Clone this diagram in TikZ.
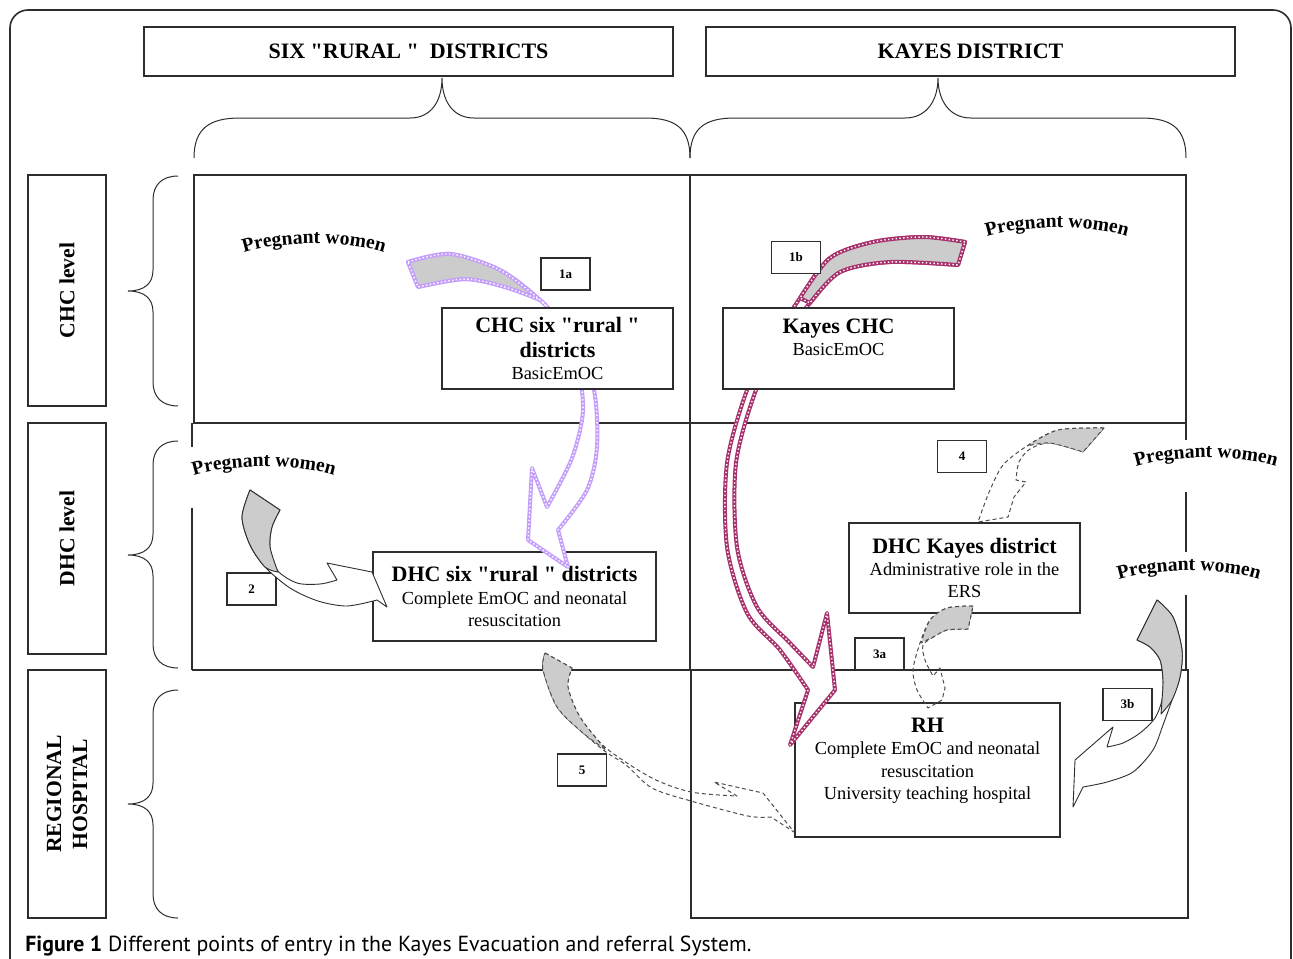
\documentclass[tikz,border=0pt]{standalone}
\usepackage{fontspec}
\setmainfont{Liberation Serif}
\newfontfamily\capfont{PT Sans}
\usetikzlibrary{decorations.text}

\definecolor{violetc}{RGB}{196,160,250}
\definecolor{maroonc}{RGB}{168,50,108}
\definecolor{shadec}{RGB}{204,204,204}
\definecolor{inkc}{RGB}{45,45,45}

\newcommand{\boxbig}{\fontsize{11}{13}\selectfont\bfseries}
\newcommand{\boxsmall}{\fontsize{9.2}{11.2}\selectfont}
\newcommand{\pwfont}{\fontsize{9.8}{10}\selectfont\bfseries}
\newcommand{\dq}{\textquotedbl}

\tikzset{
  cellbox/.style={draw=inkc, line width=0.7pt, fill=white, inner sep=0pt, outer sep=0pt, align=center, font=\boxsmall},
  hdrbox/.style={draw=inkc, line width=0.7pt, minimum width=264.5pt, minimum height=24.5pt, inner sep=0pt, font=\fontsize{11}{13}\selectfont\bfseries},
  lvlbox/.style={draw=inkc, line width=0.7pt, rotate=90, minimum height=39pt, inner sep=0pt, align=center, font=\fontsize{10.8}{13}\selectfont\bfseries},
  numbox/.style={draw=inkc, line width=0.6pt, fill=white, minimum width=24.5pt, minimum height=16pt, inner sep=0pt, font=\fontsize{6.5}{7}\selectfont\bfseries},
  gridline/.style={draw=inkc, line width=0.8pt},
  brace/.style={draw=inkc, line width=0.5pt},
  beads/.style={draw=#1, line width=2pt, line join=round, postaction={draw=white, line width=0.7pt, dash pattern=on 0.7pt off 1.2pt}},
  dashrim/.style={draw=inkc!85, line width=0.5pt, dash pattern=on 2pt off 1.5pt, line join=round},
  solidrim/.style={draw=inkc, line width=0.45pt, line join=round},
  pregnant/.style={decorate, decoration={text along path, text align=center, text={|\pwfont|Pregnant women}}}
}

\begin{document}
\begin{tikzpicture}[x=0.5pt, y=0.5pt]
\useasboundingbox (0,0) rectangle (1293,-958);
\draw [inkc, line width=0.8pt, rounded corners=9pt] (10,-962) -- (10,-10) -- (1291,-10) -- (1291,-962);

\node [hdrbox] (hdrrural) at (408.5,-51.5) {SIX \dq RURAL \dq\ \ DISTRICTS};
\node [hdrbox] (hdrkayes) at (970.5,-51.5) {KAYES DISTRICT};
\draw [brace] (194,-158) .. controls (194,-128) and (210,-118) .. (240,-118) -- (410,-118) .. controls (432,-118) and (442,-100) .. (442,-78) .. controls (442,-100) and (452,-118) .. (474,-118) -- (645,-118) .. controls (675,-118) and (690,-128) .. (690,-158);
\draw [brace] (690,-158) .. controls (690,-128) and (705,-118) .. (735,-118) -- (905,-118) .. controls (927,-118) and (938,-100) .. (938,-78) .. controls (938,-100) and (949,-118) .. (971,-118) -- (1141,-118) .. controls (1171,-118) and (1186,-128) .. (1186,-158);

\draw [gridline] (194,-175) rectangle (1186,-423);
\draw [gridline] (690,-175) -- (690,-670);
\draw [gridline] (192,-670) -- (1186,-670);
\draw [gridline] (192,-423) -- (192,-447) (192,-508) -- (192,-670);
\draw [gridline] (1186,-423) -- (1186,-440) (1186,-492) -- (1186,-552) (1186,-595) -- (1186,-670);
\draw [gridline] (691,-670) rectangle (1188,-918);

\node [lvlbox, minimum width=115.5pt] (lvlchc) at (67,-290.5) {CHC level};
\node [lvlbox, minimum width=115.5pt] (lvldhc) at (67,-538.5) {DHC level};
\node [lvlbox, minimum width=124pt] (lvlrh) at (67,-794) {REGIONAL\\HOSPITAL};
\foreach \t/\m/\b in {176/291/406, 441/555/668, 690/804/918}
  \draw [brace] (178,-\t) .. controls (162,-\t) and (153,{-\t-9}) .. (153,{-\t-24}) -- (153,{-\m+21}) .. controls (153,{-\m+8}) and (145,-\m) .. (128,-\m) .. controls (145,-\m) and (153,{-\m-8}) .. (153,{-\m-21}) -- (153,{-\b+24}) .. controls (153,{-\b+9}) and (162,-\b) .. (178,-\b);

\node [cellbox, minimum width=141.5pt, minimum height=44.5pt] (dhcrural) at (514.5,-596.5) {{\boxbig DHC six \dq rural \dq\ districts}\\Complete EmOC and neonatal\\resuscitation};
\node [cellbox, minimum width=115.5pt, minimum height=45pt] (dhckayes) at (964.5,-568) {{\boxbig DHC Kayes district}\\Administrative role in the\\ERS};
\node [cellbox, minimum width=132.5pt, minimum height=67pt] (rhbox) at (927.5,-770) {{\boxbig RH}\\Complete EmOC and neonatal\\resuscitation\\University teaching hospital\\\mbox{}};

\node [numbox] (numtwo) at (251.5,-589) {2};
\node [numbox] (numfour) at (962,-456.5) {4};
\node [numbox] (numthreea) at (879.5,-654) {3a};
\node [numbox] (numthreeb) at (1127.5,-704.5) {3b};
\node [numbox] (numfive) at (582,-770) {5};

\draw [solidrim, fill=white] (250,-490) -- (280,-510) -- plot [smooth] coordinates {(280,-510) (272,-527) (270,-547) (277,-570) (297,-583) (320,-584) (337,-580)} -- (327,-563) -- (372,-572) -- (387,-607) -- (377,-600) -- plot [smooth] coordinates {(377,-600) (347,-606) (318,-601) (290,-588) (265,-567) (250,-545) (242,-517) (250,-490)} -- cycle;
\draw [solidrim, fill=shadec] (250,-490) -- (280,-510) -- plot [smooth] coordinates {(280,-510) (272,-527) (270,-547) (278,-572)} -- plot [smooth] coordinates {(278,-572) (265,-567) (250,-545) (242,-517) (250,-490)} -- cycle;

\draw [solidrim, fill=white] plot [smooth] coordinates {(1157,-600) (1173,-617) (1182,-650) (1180,-677) (1172,-700) (1163,-725) (1153,-750) (1133,-772) (1107,-782) (1083,-787)} -- (1073,-807) -- (1075,-760) -- (1113,-727) -- (1107,-747) -- plot [smooth] coordinates {(1107,-747) (1123,-743) (1140,-733) (1155,-718) (1162,-700) (1163,-680) (1160,-660) (1150,-647) (1137,-640)} -- cycle;
\draw [solidrim, fill=shadec] plot [smooth] coordinates {(1157,-600) (1173,-617) (1182,-650) (1180,-677) (1172,-700) (1161,-714)} -- plot [smooth] coordinates {(1161,-714) (1162,-700) (1163,-680) (1160,-660) (1150,-647) (1137,-640)} -- cycle;

\draw [dashrim] plot [smooth] coordinates {(1104,-428) (1058,-430) (1027,-446) (1003,-465) (990,-490) (983,-508) (978,-522)} -- (1008,-517) -- (1014,-497) -- (1026,-482) -- (1016,-480) -- plot [smooth] coordinates {(1016,-480) (1019,-462) (1030,-449) (1050,-443) (1083,-452)} -- cycle;
\draw [dashrim, fill=shadec] plot [smooth] coordinates {(1104,-428) (1058,-430) (1027,-446)} -- plot [smooth] coordinates {(1027,-446) (1050,-443) (1083,-452)} -- cycle;

\draw [dashrim] plot [smooth] coordinates {(973,-606) (947,-608) (930,-620) (920,-643) (913,-670) (917,-690) (928,-708)} -- (942,-700) -- (945,-688) -- (940,-668) -- (933,-676) -- plot [smooth] coordinates {(933,-676) (925,-660) (923,-645) (935,-636) (947,-630) (968,-629)} -- cycle;
\draw [dashrim, fill=shadec] plot [smooth] coordinates {(973,-606) (947,-608) (930,-620) (921,-643)} -- plot [smooth] coordinates {(921,-643) (935,-636) (947,-630) (968,-629)} -- cycle;

\draw [dashrim] (545,-653) -- (572,-668) -- plot [smooth] coordinates {(572,-668) (568,-687) (580,-717) (606,-748) (652,-778) (691,-792) (737,-796)} -- (714,-782) -- (763,-793) -- (794,-832) -- (771,-817) -- plot [smooth] coordinates {(771,-817) (748,-816) (691,-801) (652,-788) (626,-765) (606,-752) (583,-733) (557,-707) (543,-670) (545,-653)} -- cycle;
\draw [dashrim, fill=shadec] (545,-653) -- (572,-668) -- plot [smooth] coordinates {(572,-668) (568,-687) (580,-717) (606,-750)} -- plot [smooth] coordinates {(606,-750) (583,-733) (557,-707) (543,-670) (545,-653)} -- cycle;

\draw [beads=violetc, fill=white] plot [smooth] coordinates {(408,-262) (450,-254) (500,-270) (540,-300) (575,-340) (594,-390) (597,-447) (587,-490) (558,-530)} -- (568,-567) -- (528,-540) -- (532,-468) -- plot [smooth] coordinates {(547,-507) (572,-458) (583,-410) (576,-360) (555,-320) (540,-300) (505,-287) (465,-279) (418,-287)} -- cycle;
\draw [beads=violetc, fill=shadec] plot [smooth] coordinates {(408,-262) (450,-254) (500,-270) (540,-300)} -- plot [smooth] coordinates {(540,-300) (505,-287) (465,-279) (418,-287)} -- cycle;

\draw [beads=maroonc, fill=white] plot [smooth] coordinates {(965,-242) (923,-237) (873,-242) (830,-258) (800,-298) (770,-345) (747,-390) (727,-463) (727,-547) (747,-613) (780,-650) (808,-690)} -- (790,-745) -- (835,-690) -- (827,-613) -- plot [smooth] coordinates {(813,-667) (790,-643) (757,-607) (737,-547) (736,-463) (756,-390) (782,-340) (810,-303) (840,-272) (890,-262) (958,-265)} -- cycle;
\draw [beads=maroonc, fill=shadec] plot [smooth] coordinates {(965,-242) (923,-237) (873,-242) (830,-258) (800,-298)} -- plot [smooth] coordinates {(810,-303) (840,-272) (890,-262) (958,-265)} -- cycle;

\node [cellbox, minimum width=115.5pt, minimum height=40.5pt] (chcrural) at (557.5,-348.5) {{\boxbig CHC six \dq rural \dq}\\[1pt]{\boxbig districts}\\BasicEmOC};
\node [cellbox, minimum width=115.5pt, minimum height=40.5pt] (kayeschc) at (838.5,-348.5) {{\boxbig Kayes CHC}\\BasicEmOC\\\mbox{}};
\node [numbox] (numonea) at (565.5,-274) {1a};
\node [numbox] (numoneb) at (796,-257.5) {1b};

\path [pregnant] (240,-254) .. controls (280,-240) and (350,-240) .. (388,-254);
\path [pregnant] (982,-238) .. controls (1022,-224) and (1092,-224) .. (1132,-238);
\path [pregnant] (189,-477) .. controls (229,-463) and (299,-463) .. (339,-477);
\path [pregnant] (1131,-468) .. controls (1171,-454) and (1241,-454) .. (1281,-468);
\path [pregnant] (1114,-581) .. controls (1154,-567) and (1224,-567) .. (1264,-581);

\node [anchor=base west, inner sep=0pt, font=\capfont\fontsize{10.9}{12}\selectfont] (caption) at (25,-951) {\textbf{Figure 1} Different points of entry in the Kayes Evacuation and referral System.};
\end{tikzpicture}
\end{document}
